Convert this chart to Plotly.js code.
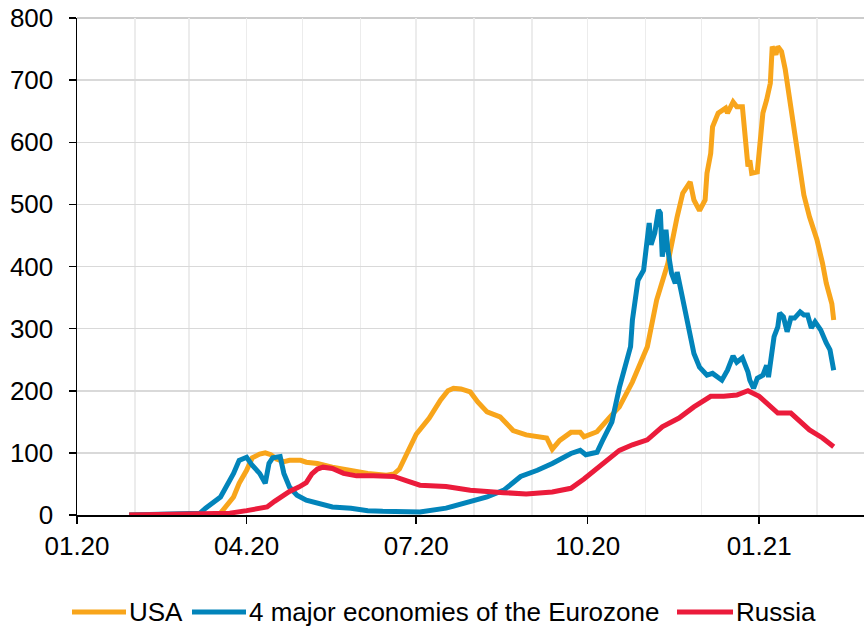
<!DOCTYPE html>
<html>
<head>
<meta charset="utf-8">
<script src="https://cdn.plot.ly/plotly-3.0.1.min.js"></script>
<style>
  html, body { margin: 0; padding: 0; background: #fff; }
  #chart { width: 864px; height: 629px; }
</style>
</head>
<body>
<div id="chart"></div>
<script>
// Series names shown in the legend
const seriesNames = ['USA', '4 major economies of the Eurozone', 'Russia'];
const seriesColors = ['#F8A51B', '#0284BA', '#EB1B3B'];

// USA
const usaDates = [
  '2020-01-29','2020-03-15','2020-03-18','2020-03-21','2020-03-25','2020-03-28','2020-04-01','2020-04-04',
  '2020-04-08','2020-04-11','2020-04-14','2020-04-17','2020-04-21','2020-04-24','2020-04-30','2020-05-03',
  '2020-05-09','2020-05-17','2020-05-27','2020-06-05','2020-06-15','2020-06-19','2020-06-22','2020-06-25',
  '2020-07-01','2020-07-08','2020-07-14','2020-07-18','2020-07-21','2020-07-25','2020-07-30','2020-08-03',
  '2020-08-08','2020-08-15','2020-08-22','2020-08-29','2020-09-05','2020-09-09','2020-09-12','2020-09-16',
  '2020-09-22','2020-09-27','2020-09-29','2020-10-06','2020-10-13','2020-10-18','2020-10-25','2020-11-02',
  '2020-11-07','2020-11-13','2020-11-18','2020-11-21','2020-11-25','2020-11-27','2020-11-30','2020-12-03',
  '2020-12-04','2020-12-06','2020-12-07','2020-12-10','2020-12-14','2020-12-15','2020-12-18','2020-12-20',
  '2020-12-23','2020-12-24','2020-12-26','2020-12-27','2020-12-28','2020-12-31','2021-01-03','2021-01-05',
  '2021-01-07','2021-01-08','2021-01-10','2021-01-11','2021-01-13','2021-01-15','2021-01-18','2021-01-20',
  '2021-01-23','2021-01-25','2021-01-28','2021-02-01','2021-02-04','2021-02-06','2021-02-09','2021-02-10'
];
const usaValues = [
  0, 0, 3, 13, 29, 51, 72, 92,
  98, 100, 97, 90, 86, 88, 88, 85,
  83, 77, 71, 67, 64, 66, 74, 92,
  130, 156, 185, 200, 204, 203, 198, 182,
  166, 158, 136, 129, 126, 124, 106, 120,
  133, 133, 126, 134, 158, 174, 214, 271,
  346, 405, 480, 518, 536, 507, 490, 507,
  550, 582, 625, 647, 655, 647, 665, 657,
  657, 625, 561, 571, 550, 552, 647, 668,
  695, 754, 741, 754, 746, 717, 657, 604,
  545, 515, 480, 443, 405, 373, 340, 314
];

// 4 major economies of the Eurozone
const euroDates = [
  '2020-01-29','2020-02-29','2020-03-07','2020-03-10','2020-03-14','2020-03-18','2020-03-25','2020-03-28',
  '2020-04-01','2020-04-04','2020-04-08','2020-04-11','2020-04-13','2020-04-15','2020-04-19','2020-04-21',
  '2020-04-24','2020-04-28','2020-05-03','2020-05-10','2020-05-17','2020-05-27','2020-06-05','2020-06-13',
  '2020-07-01','2020-07-03','2020-07-17','2020-07-30','2020-08-08','2020-08-17','2020-08-26','2020-09-04',
  '2020-09-12','2020-09-22','2020-09-27','2020-09-30','2020-10-06','2020-10-09','2020-10-14','2020-10-18',
  '2020-10-20','2020-10-24','2020-10-25','2020-10-28','2020-10-31','2020-11-02','2020-11-03','2020-11-04',
  '2020-11-06','2020-11-08','2020-11-09','2020-11-10','2020-11-12','2020-11-13','2020-11-15','2020-11-17',
  '2020-11-18','2020-11-20','2020-11-22','2020-11-24','2020-11-27','2020-11-30','2020-12-04','2020-12-07',
  '2020-12-10','2020-12-12','2020-12-15','2020-12-18','2020-12-20','2020-12-23','2020-12-26','2020-12-27',
  '2020-12-29','2020-12-31','2021-01-03','2021-01-05','2021-01-06','2021-01-09','2021-01-11','2021-01-12',
  '2021-01-14','2021-01-16','2021-01-18','2021-01-20','2021-01-23','2021-01-25','2021-01-27','2021-01-29',
  '2021-01-31','2021-02-03','2021-02-06','2021-02-08','2021-02-10'
];
const euroValues = [
  0, 1, 3, 11, 19, 29, 67, 88,
  93, 80, 67, 51, 83, 92, 94, 67,
  45, 32, 24, 19, 13, 11, 7, 6,
  6, 5, 11, 21, 29, 40, 62, 72,
  83, 99, 104, 97, 101, 120, 150, 205,
  228, 271, 314, 378, 394, 459, 470, 435,
  454, 491, 486, 416, 459, 427, 389, 373,
  391, 362, 335, 303, 260, 238, 225, 228,
  220, 217, 233, 256, 246, 253, 230, 217,
  204, 220, 225, 241, 222, 287, 303, 325,
  319, 295, 317, 317, 327, 322, 322, 301,
  311, 298, 277, 266, 233
];

// Russia
const rusDates = [
  '2020-01-29','2020-03-10','2020-03-23','2020-04-01','2020-04-08','2020-04-12','2020-04-16','2020-04-20',
  '2020-04-24','2020-04-29','2020-05-03','2020-05-06','2020-05-09','2020-05-12','2020-05-17','2020-05-23',
  '2020-05-30','2020-06-08','2020-06-19','2020-06-26','2020-07-03','2020-07-17','2020-07-30','2020-08-17',
  '2020-08-29','2020-09-12','2020-09-22','2020-09-29','2020-10-09','2020-10-18','2020-10-25','2020-11-02',
  '2020-11-10','2020-11-19','2020-11-27','2020-12-06','2020-12-13','2020-12-20','2020-12-26','2021-01-01',
  '2021-01-11','2021-01-18','2021-01-28','2021-02-04','2021-02-10'
];
const rusValues = [
  0, 1, 3, 7, 10, 13, 22, 30,
  38, 45, 52, 66, 74, 77, 75, 67,
  63, 63, 62, 55, 48, 46, 40, 36,
  34, 37, 43, 58, 83, 104, 113, 121,
  142, 156, 174, 191, 191, 193, 200, 191,
  164, 164, 137, 124, 110
];

// y-axis ticks
const yTickValues = [0, 100, 200, 300, 400, 500, 600, 700, 800];

const series = [
  { x: usaDates, y: usaValues },
  { x: euroDates, y: euroValues },
  { x: rusDates, y: rusValues }
];

const traces = series.map((s, i) => ({
  type: 'scatter',
  mode: 'lines',
  name: seriesNames[i],
  x: s.x,
  y: s.y,
  line: { color: seriesColors[i], width: 5, shape: 'linear' },
  hoverinfo: 'x+y+name',
  showlegend: false
}));

// plot area in pixels
const M = { l: 77, r: 0, t: 18, b: 114 };
const W = 864, H = 629;
const pw = W - M.l - M.r, ph = H - M.t - M.b;
const px2x = px => (px - M.l) / pw;
const py2y = py => (H - M.b - py) / ph;

// hand-built legend: a coloured stroke followed by its label
const legendRow = 612;
const legendSlots = [
  { lineFrom: 72, lineTo: 126, textAt: 128 },
  { lineFrom: 192, lineTo: 246, textAt: 248 },
  { lineFrom: 677, lineTo: 733, textAt: 735 }
];
const shapes = legendSlots.map((s, i) => ({
  type: 'line', xref: 'paper', yref: 'paper',
  x0: px2x(s.lineFrom), x1: px2x(s.lineTo),
  y0: py2y(legendRow), y1: py2y(legendRow),
  line: { color: seriesColors[i], width: 5 }
}));
// slightly heavier rule along the top of the plot
shapes.push({
  type: 'line', xref: 'paper', yref: 'paper', layer: 'below',
  x0: 0, x1: 1, y0: 1, y1: 1,
  line: { color: '#cccccc', width: 2 }
});
const annotations = legendSlots.map((s, i) => ({
  xref: 'paper', yref: 'paper',
  x: px2x(s.textAt), y: py2y(legendRow),
  xanchor: 'left', yanchor: 'middle',
  text: seriesNames[i], showarrow: false, borderpad: 0,
  font: { family: 'Liberation Sans, Arial, sans-serif', size: 26, color: '#000' }
}));

const layout = {
  width: W, height: H,
  margin: M,
  paper_bgcolor: '#ffffff',
  plot_bgcolor: '#ffffff',
  showlegend: false,
  font: { family: 'Liberation Sans, Arial, sans-serif', size: 26, color: '#000' },
  xaxis: {
    type: 'date',
    range: ['2020-01-01', '2021-02-26 06:00'],
    tick0: '2020-01-01',
    dtick: 'M3',
    tickformat: '%m.%y',
    showgrid: true, gridcolor: '#ececec', gridwidth: 1.5,
    minor: { dtick: 'M1', tick0: '2020-01-01', showgrid: true, gridcolor: '#ececec', gridwidth: 1.5, ticks: '' },
    showline: true, linecolor: '#000', linewidth: 1.5,
    ticks: 'outside', ticklen: 7, tickwidth: 1.5, tickcolor: '#000',
    zeroline: false,
    tickfont: { size: 26, color: '#000' }
  },
  yaxis: {
    range: [0, 800],
    tickvals: yTickValues,
    showgrid: true, gridcolor: '#d9d9d9', gridwidth: 1.5,
    showline: true, linecolor: '#000', linewidth: 1.5,
    ticks: 'outside', ticklen: 7, tickwidth: 1.5, tickcolor: '#000',
    zeroline: false,
    ticklabelstandoff: 10,
    tickfont: { size: 26, color: '#000' }
  },
  shapes: shapes,
  annotations: annotations
};

Plotly.newPlot('chart', traces, layout, { staticPlot: true, displayModeBar: false });
</script>
</body>
</html>
